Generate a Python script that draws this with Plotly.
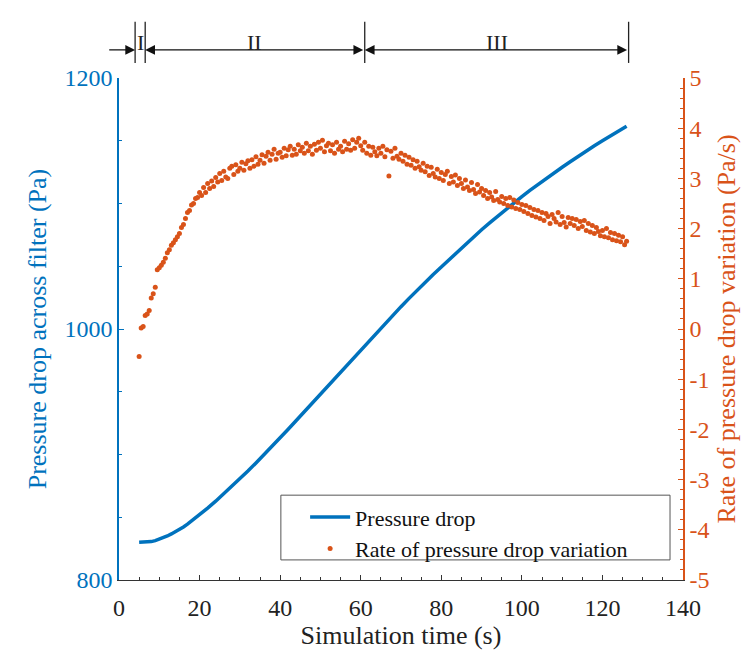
import plotly.graph_objects as go

# ---------------- data ----------------
# Pressure drop across filter (Pa) vs simulation time (s)
time_p = [5, 6, 7, 8, 9, 10, 11, 12, 13, 14, 15, 16, 17, 18, 19, 20,
          22, 24, 26, 28, 30, 32, 34, 36, 38, 40, 42, 44, 46, 48, 50,
          52, 54, 56, 58, 60, 62, 64, 66, 68, 70, 72, 74, 76, 78, 80,
          82, 84, 86, 88, 90, 92, 94, 96, 98, 100, 102, 104, 106, 108, 110,
          112, 114, 116, 118, 120, 122, 124, 126]
pressure = [830.0, 830.0, 830.2, 830.6, 831.4, 832.4, 833.7, 835.1, 836.7, 838.4,
            840.3, 842.3, 844.5, 846.9, 849.4, 852.0,
            857.3, 862.8, 868.6, 874.5, 880.6, 886.8, 893.3, 899.8, 906.5, 913.2,
            920.1, 927.1, 934.1, 941.1, 948.2,
            955.2, 962.4, 969.4, 976.6, 983.7, 990.7, 997.5, 1004.3, 1011.1, 1017.8,
            1024.4, 1030.9, 1037.2, 1043.4, 1049.4,
            1055.5, 1061.6, 1067.5, 1073.4, 1079.1, 1084.6, 1090.0, 1095.3, 1100.5, 1105.5,
            1110.4, 1115.2, 1119.8, 1124.4, 1128.9,
            1133.3, 1137.7, 1141.9, 1146.0, 1150.0, 1154.0, 1157.8, 1161.5]

# Rate of pressure drop variation (Pa/s)
time_r = [
    5.0, 5.5, 6.0, 6.5, 7.0, 7.5, 8.0, 8.5, 9.0, 9.5,
    10.0, 10.5, 11.0, 11.5, 12.0, 12.5, 13.0, 13.5, 14.0, 14.5,
    15.0, 15.5, 16.0, 16.5, 17.0, 17.5, 18.0, 18.5, 19.0, 19.5,
    20.0, 20.5, 21.0, 21.5, 22.0, 22.5, 23.0, 23.5, 24.0, 24.5,
    25.0, 25.5, 26.0, 26.5, 27.0, 27.5, 28.0, 28.5, 29.0, 29.5,
    30.0, 30.5, 31.0, 31.5, 32.0, 32.5, 33.0, 33.5, 34.0, 34.5,
    35.0, 35.5, 36.0, 36.5, 37.0, 37.5, 38.0, 38.5, 39.0, 39.5,
    40.0, 40.5, 41.0, 41.5, 42.0, 42.5, 43.0, 43.5, 44.0, 44.5,
    45.0, 45.5, 46.0, 46.5, 47.0, 47.5, 48.0, 48.5, 49.0, 49.5,
    50.0, 50.5, 51.0, 51.5, 52.0, 52.5, 53.0, 53.5, 54.0, 54.5,
    55.0, 55.5, 56.0, 56.5, 57.0, 57.5, 58.0, 58.5, 59.0, 59.5,
    60.0, 60.5, 61.0, 61.5, 62.0, 62.5, 63.0, 63.5, 64.0, 64.5,
    65.0, 65.5, 66.0, 66.5, 67.0, 67.5, 68.0, 68.5, 69.0, 69.5,
    70.0, 70.5, 71.0, 71.5, 72.0, 72.5, 73.0, 73.5, 74.0, 74.5,
    75.0, 75.5, 76.0, 76.5, 77.0, 77.5, 78.0, 78.5, 79.0, 79.5,
    80.0, 80.5, 81.0, 81.5, 82.0, 82.5, 83.0, 83.5, 84.0, 84.5,
    85.0, 85.5, 86.0, 86.5, 87.0, 87.5, 88.0, 88.5, 89.0, 89.5,
    90.0, 90.5, 91.0, 91.5, 92.0, 92.5, 93.0, 93.5, 94.0, 94.5,
    95.0, 95.5, 96.0, 96.5, 97.0, 97.5, 98.0, 98.5, 99.0, 99.5,
    100.0, 100.5, 101.0, 101.5, 102.0, 102.5, 103.0, 103.5, 104.0, 104.5,
    105.0, 105.5, 106.0, 106.5, 107.0, 107.5, 108.0, 108.5, 109.0, 109.5,
    110.0, 110.5, 111.0, 111.5, 112.0, 112.5, 113.0, 113.5, 114.0, 114.5,
    115.0, 115.5, 116.0, 116.5, 117.0, 117.5, 118.0, 118.5, 119.0, 119.5,
    120.0, 120.5, 121.0, 121.5, 122.0, 122.5, 123.0, 123.5, 124.0, 124.5,
    125.0, 125.5, 126.0]
rate = [
    -0.55, 0.02, 0.05, 0.27, 0.30, 0.37, 0.62, 0.70, 0.83, 1.18,
    1.22, 1.27, 1.33, 1.41, 1.52, 1.58, 1.67, 1.72, 1.78, 1.84,
    1.90, 2.02, 2.08, 2.20, 2.32, 2.36, 2.47, 2.50, 2.60, 2.62,
    2.72, 2.66, 2.82, 2.72, 2.90, 2.80, 2.95, 2.84, 3.02, 2.93,
    3.10, 2.96, 3.14, 3.03, 3.00, 3.20, 3.24, 3.08, 3.27, 3.14,
    3.20, 3.32, 3.16, 3.29, 3.35, 3.20, 3.37, 3.24, 3.43, 3.28,
    3.36, 3.47, 3.30, 3.44, 3.52, 3.36, 3.48, 3.58, 3.38, 3.50,
    3.52, 3.42, 3.60, 3.45, 3.57, 3.64, 3.46, 3.58, 3.48, 3.67,
    3.55, 3.62, 3.50, 3.70, 3.55, 3.64, 3.48, 3.68, 3.56, 3.72,
    3.60, 3.76, 3.53, 3.65, 3.70, 3.55, 3.67, 3.50, 3.72, 3.58,
    3.64, 3.53, 3.74, 3.58, 3.69, 3.56, 3.77, 3.60, 3.72, 3.80,
    3.65, 3.56, 3.72, 3.50, 3.64, 3.46, 3.62, 3.53, 3.45, 3.60,
    3.50, 3.64, 3.43, 3.57, 3.05, 3.54, 3.40, 3.60, 3.44, 3.38,
    3.50, 3.34, 3.46, 3.28, 3.42, 3.26, 3.37, 3.20, 3.34, 3.23,
    3.16, 3.30, 3.13, 3.24, 3.06, 3.22, 3.10, 3.03, 3.18, 3.00,
    3.12, 2.96, 3.08, 3.14, 2.90, 3.04, 2.93, 3.07, 2.86, 3.00,
    2.90, 2.80, 2.97, 2.83, 2.76, 2.92, 2.78, 2.70, 2.88, 2.73,
    2.80, 2.66, 2.76, 2.60, 2.72, 2.63, 2.56, 2.74, 2.58, 2.53,
    2.64, 2.50, 2.60, 2.46, 2.62, 2.43, 2.57, 2.40, 2.52, 2.38,
    2.48, 2.34, 2.46, 2.30, 2.42, 2.26, 2.38, 2.23, 2.36, 2.20,
    2.32, 2.16, 2.30, 2.24, 2.10, 2.28, 2.20, 2.13, 2.32, 2.08,
    2.24, 2.12, 2.03, 2.22, 2.10, 2.20, 2.06, 2.18, 2.00, 2.14,
    2.04, 2.16, 1.96, 2.10, 1.93, 2.06, 1.90, 2.02, 1.94, 1.86,
    1.96, 1.84, 2.00, 1.82, 1.92, 1.78, 1.90, 1.76, 1.87, 1.74,
    1.84, 1.68, 1.75]

# Stage boundaries (s) and labels
stage_bounds = [4.0, 6.5, 61.0, 126.5]
stage_labels = ["I", "II", "III"]

# Right-axis tick labels (hyphen minus as in the original)
rate_ticks = [-5, -4, -3, -2, -1, 0, 1, 2, 3, 4, 5]
rate_ticktext = ["-5", "-4", "-3", "-2", "-1", "0", "1", "2", "3", "4", "5"]

# ---------------- style ----------------
BLUE = "#0072BD"
ORANGE = "#D95319"
FONT = "Liberation Serif"

fig = go.Figure()
fig.add_trace(go.Scatter(x=time_p, y=pressure, mode="lines", name="Pressure drop",
                         line=dict(color=BLUE, width=3.5), yaxis="y"))
fig.add_trace(go.Scatter(x=time_r, y=rate, mode="markers",
                         name="Rate of pressure drop variation",
                         marker=dict(color=ORANGE, size=5), yaxis="y2"))

# legend box
fig.add_shape(type="rect", xref="paper", yref="paper", x0=0.287, x1=0.977,
              y0=0.04, y1=0.169, line=dict(color="#555", width=1),
              fillcolor="rgba(0,0,0,0)", layer="above")

# stage markers at top
for b in stage_bounds:
    fig.add_shape(type="line", xref="x", yref="paper", x0=b, x1=b,
                  y0=1.03, y1=1.112, line=dict(color="#222", width=1.3))

ARROW_Y = 1.056
fig.add_annotation(x=stage_bounds[0], y=ARROW_Y, xref="x", yref="paper",
                   ax=-2.8, ay=0, axref="x", ayref="pixel", text="",
                   showarrow=True, arrowhead=2, arrowsize=1.4, arrowwidth=1.4,
                   arrowcolor="#111", standoff=0)
fig.add_annotation(x=stage_bounds[1], y=ARROW_Y, xref="x", yref="paper",
                   ax=stage_bounds[2], ay=0, axref="x", ayref="pixel", text="",
                   showarrow=True, arrowhead=2, arrowsize=1.4, arrowwidth=1.4,
                   arrowside="end+start", arrowcolor="#111", standoff=0, startstandoff=0)
fig.add_annotation(x=stage_bounds[2], y=ARROW_Y, xref="x", yref="paper",
                   ax=stage_bounds[3], ay=0, axref="x", ayref="pixel", text="",
                   showarrow=True, arrowhead=2, arrowsize=1.4, arrowwidth=1.4,
                   arrowside="end+start", arrowcolor="#111", standoff=0, startstandoff=0)

label_x = [(stage_bounds[i] + stage_bounds[i + 1]) / 2 for i in range(3)]
for lx, lab in zip(label_x, stage_labels):
    fig.add_annotation(x=lx, y=1.10, xref="x", yref="paper", text=lab,
                       showarrow=False, font=dict(family=FONT, size=22, color="#222"))

fig.update_layout(
    width=756, height=653,
    margin=dict(l=111, r=81, t=70, b=81),
    paper_bgcolor="white", plot_bgcolor="white",
    font=dict(family=FONT, size=21, color="#222"),
    showlegend=True,
    legend=dict(x=0.33, y=0.167, xanchor="left", yanchor="top",
                bgcolor="rgba(0,0,0,0)", borderwidth=0,
                font=dict(family=FONT, size=22, color="#111"),
                itemwidth=40, tracegroupgap=0),
    xaxis=dict(range=[0, 140], dtick=20, tick0=0, ticks="inside", ticklen=5,
               tickcolor="#333", showline=True, linecolor="#333", linewidth=1.2,
               showgrid=False, zeroline=False, mirror=False,
               minor=dict(dtick=5, ticks="inside", ticklen=3, tickcolor="#333"),
               tickfont=dict(family=FONT, size=24, color="#222"),
               ticklabelstandoff=6,
               title=dict(text="Simulation time (s)", standoff=4,
                          font=dict(family=FONT, size=26, color="#222"))),
    yaxis=dict(range=[800, 1200], dtick=200, ticks="inside", ticklen=5,
               tickcolor=BLUE, showline=True, linecolor=BLUE, linewidth=1.5,
               showgrid=False, zeroline=False,
               minor=dict(dtick=50, ticks="inside", ticklen=3, tickcolor=BLUE),
               tickfont=dict(family=FONT, size=24, color=BLUE),
               title=dict(text="Pressure drop across filter (Pa)", standoff=10,
                          font=dict(family=FONT, size=26, color=BLUE))),
    yaxis2=dict(range=[-5, 5], tickmode="array", tickvals=rate_ticks,
                ticktext=rate_ticktext, overlaying="y", side="right",
                ticks="inside", ticklen=5, tickcolor=ORANGE,
                showline=True, linecolor=ORANGE, linewidth=1.5,
                showgrid=False, zeroline=False,
                minor=dict(dtick=0.2, tick0=0, ticks="inside", ticklen=3, tickcolor=ORANGE),
                tickfont=dict(family=FONT, size=24, color=ORANGE),
                title=dict(text="Rate of pressure drop variation (Pa/s)", standoff=8,
                           font=dict(family=FONT, size=26, color=ORANGE))),
)

fig.write_html("out.html")
